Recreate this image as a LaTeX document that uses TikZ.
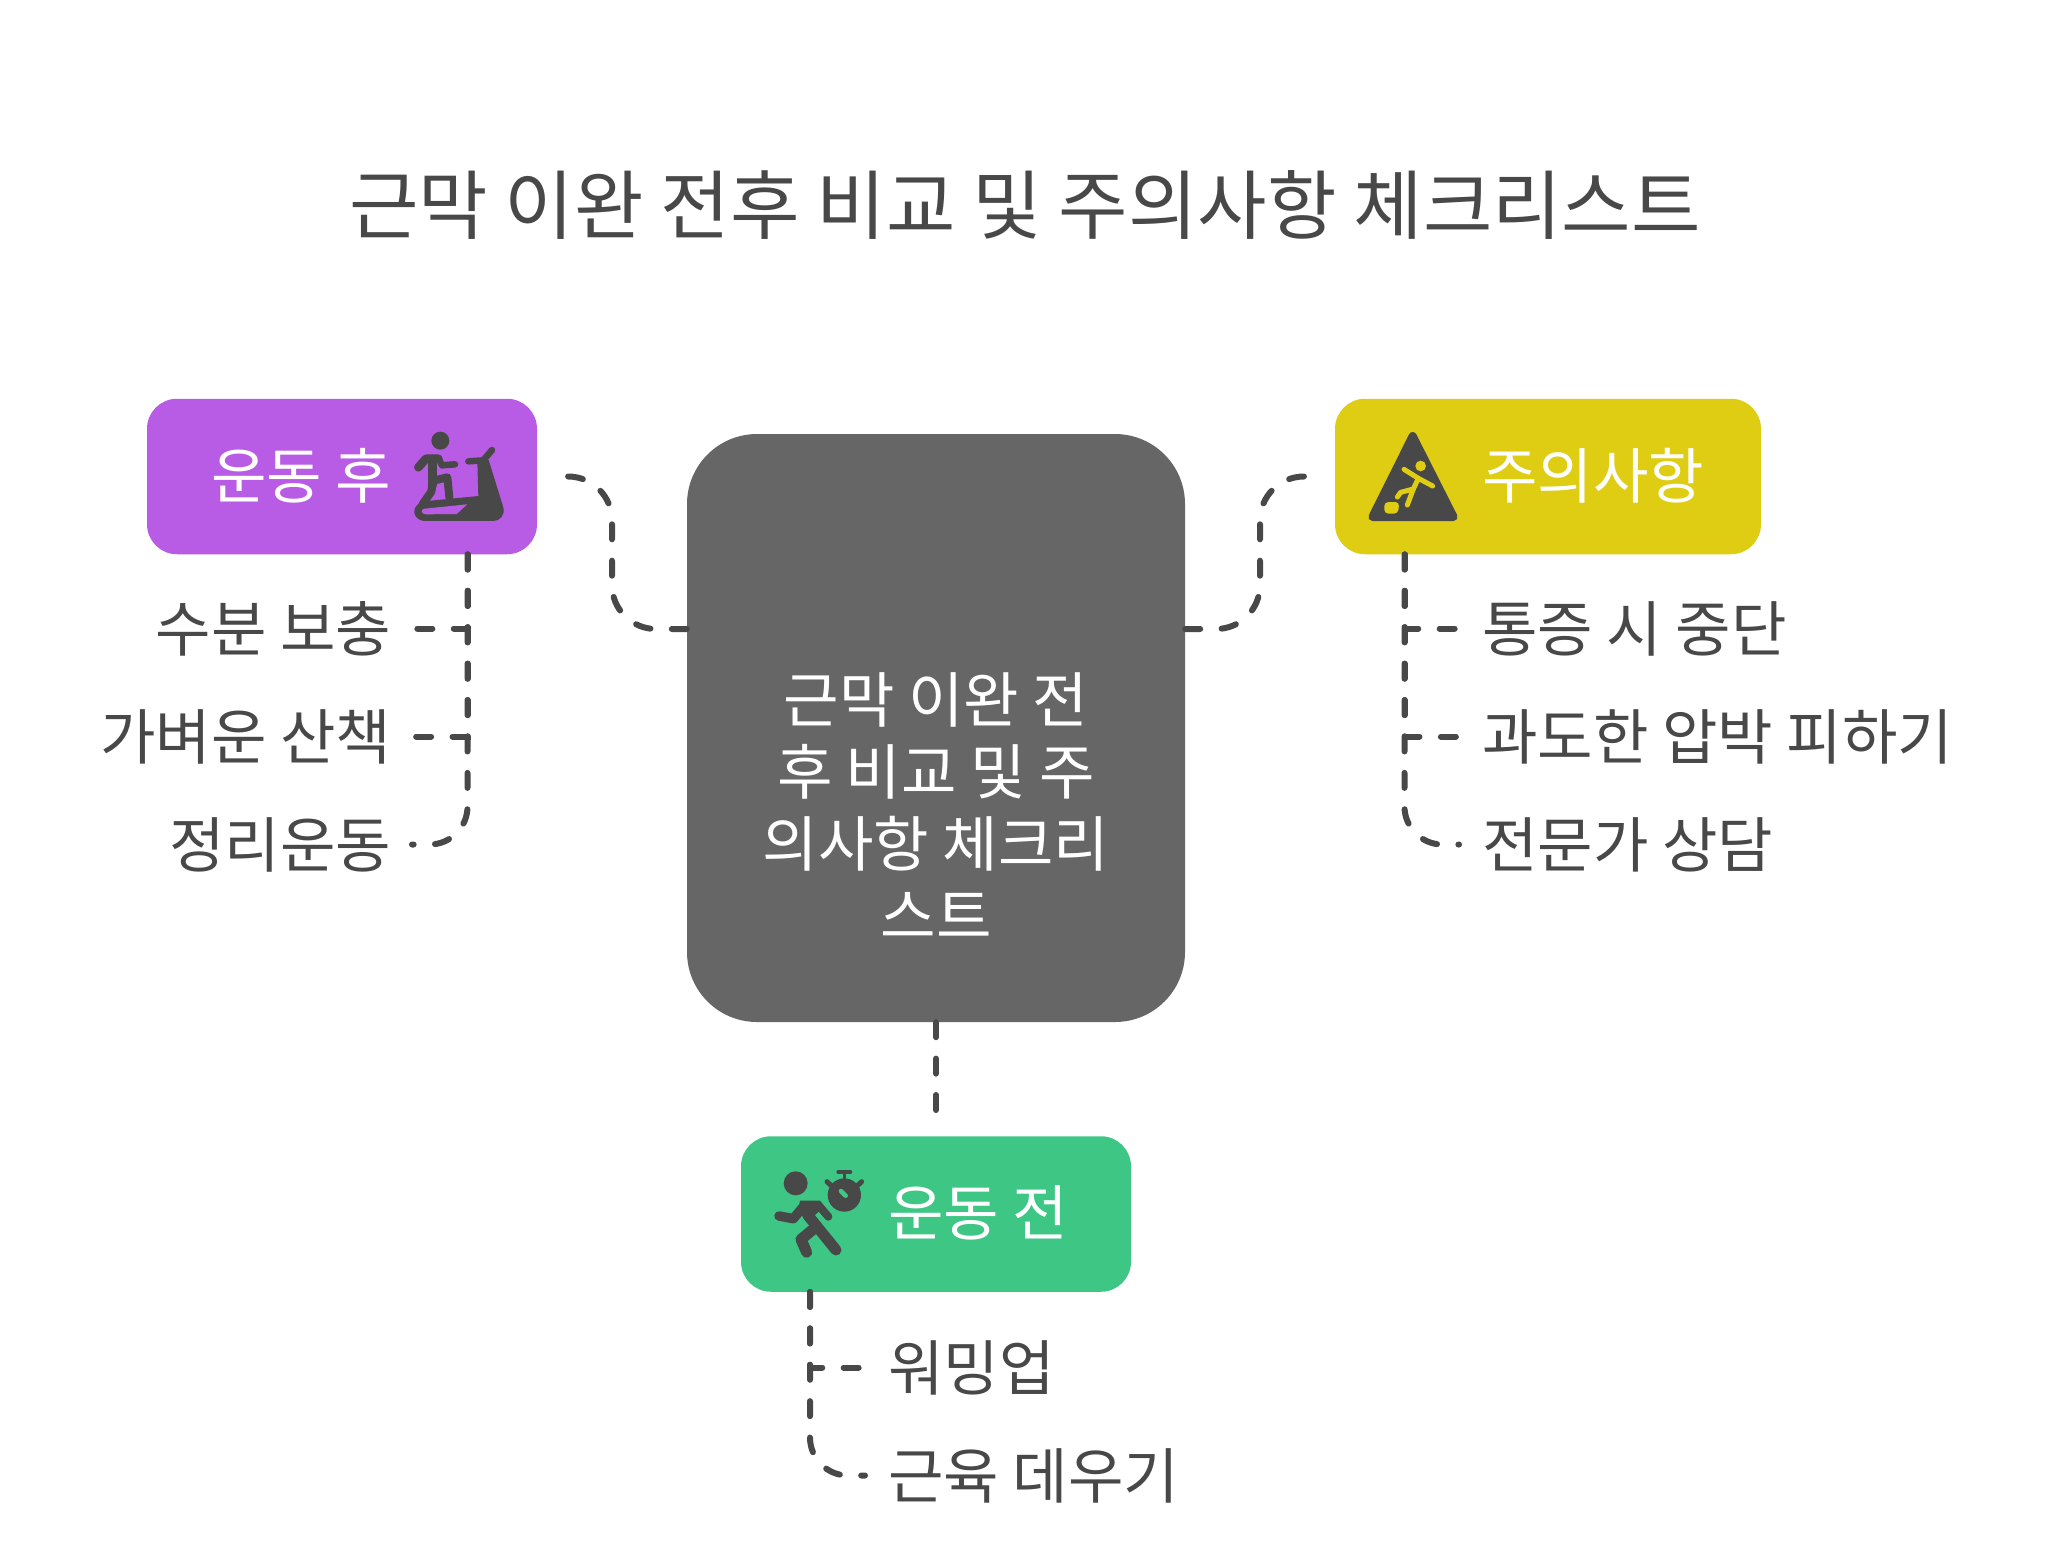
\documentclass[tikz,border=0pt]{standalone}
\usepackage{fontspec}
\setmainfont{Noto Sans CJK KR}
\definecolor{inkc}{HTML}{484848}
\definecolor{purplec}{HTML}{B95CE5}
\definecolor{yellowc}{HTML}{DFCD14}
\definecolor{greenc}{HTML}{3EC685}
\definecolor{darkc}{HTML}{666666}
\tikzset{
  boxnode/.style={inner sep=0pt,rounded corners=30pt,minimum height=155.5pt},
  lab/.style={inner sep=0pt,text=inkc,font=\fontsize{60.3pt}{72pt}\selectfont,text height=50pt,text depth=5pt},
  boxlab/.style={lab,text=white},
  conn/.style={draw=inkc,line width=6pt,line cap=round,dash pattern=on 15pt off 21.4pt},
  ic/.style={fill=inkc},
  icl/.style={draw=inkc,line cap=round,line join=round},
}
\begin{document}
\begin{tikzpicture}[x=1pt,y=-1pt]
\useasboundingbox (0,0) rectangle (2052,1548);
\fill[white] (0,0) rectangle (2052,1548);

\node[lab,text=inkc,font=\fontsize{75.5pt}{86pt}\selectfont] (title) at (1025,210.5) {근막 이완 전후 비교 및 주의사항 체크리스트};

\node[inner sep=0pt,fill=darkc,rounded corners=70pt,minimum width=498pt,minimum height=588pt] (center) at (936,728) {};
\node[inner sep=0pt,text=white,align=center,font=\fontsize{60.3pt}{72pt}\selectfont] (centertext) at (936,806) {근막 이완 전\\후 비교 및 주\\의사항 체크리\\스트};

\node[boxnode,fill=purplec,minimum width=390pt] (after) at (342,476.5) {};
\node[boxnode,fill=yellowc,minimum width=426pt] (caution) at (1548,476.5) {};
\node[boxnode,fill=greenc,minimum width=390pt] (before) at (936,1214) {};

\node[boxlab,anchor=east] (afterlab) at (391.5,475.5) {운동 후};
\node[boxlab,anchor=west] (cautionlab) at (1482,475.5) {주의사항};
\node[boxlab,anchor=west] (beforelab) at (888,1212.5) {운동 전};

\node[lab,anchor=east] (a1) at (391.5,628.5) {수분 보충};
\node[lab,anchor=east] (a2) at (391.5,736.5) {가벼운 산책};
\node[lab,anchor=east] (a3) at (391.5,844.5) {정리운동};
\node[lab,anchor=west] (c1) at (1482,628.5) {통증 시 중단};
\node[lab,anchor=west] (c2) at (1482,736.5) {과도한 압박 피하기};
\node[lab,anchor=west] (c3) at (1482,844.5) {전문가 상담};
\node[lab,anchor=west] (b1) at (888,1367.5) {워밍업};
\node[lab,anchor=west] (b2) at (888,1475.5) {근육 데우기};

\coordinate (midL) at (612,552);
\coordinate (midR) at (1260,552);
\path ([yshift=99pt]center.west) coordinate (centerL);
\path ([yshift=99pt]center.east) coordinate (centerR);

\draw[conn,rounded corners=44pt] (centerL) -- (centerL -| midL) -- (midL |- after.east) -- ([xshift=13pt]after.east);
\draw[conn,rounded corners=44pt] (centerR) -- (centerR -| midR) -- (midR |- caution.west) -- ([xshift=-13pt]caution.west);
\draw[conn] (center.south) -- ([yshift=20pt]before.north);

\draw[conn] ([xshift=125.5pt]after.south) |- ([xshift=20.5pt]a1.east);
\draw[conn] ([xshift=125.5pt]after.south) |- ([xshift=20.5pt]a2.east);
\draw[conn,rounded corners=38pt] ([xshift=125.5pt]after.south) |- ([xshift=20.5pt]a3.east);

\draw[conn] ([xshift=-143.5pt]caution.south) |- ([xshift=-23pt]c1.west);
\draw[conn] ([xshift=-143.5pt]caution.south) |- ([xshift=-23pt]c2.west);
\draw[conn,rounded corners=38pt] ([xshift=-143.5pt]caution.south) |- ([xshift=-23pt]c3.west);

\draw[conn] ([xshift=-126pt]before.south) |- ([xshift=-23pt]b1.west);
\draw[conn,rounded corners=38pt] ([xshift=-126pt]before.south) |- ([xshift=-23pt]b2.west);

% treadmill icon
\begin{scope}[shift={(400,420)},x=0.3333pt,y=-0.3333pt]
  \fill[ic] (121,62) circle (27);
  \draw[icl,line width=8.5pt] (55,142) -- (78,116) -- (115,116);
  \draw[icl,line width=6.5pt] (118,120) -- (126,136) -- (165,133);
  \draw[icl,line width=9.5pt] (97,118) -- (97,195);
  \draw[icl,line width=8pt] (100,182) -- (142,172) -- (148,232);
  \draw[icl,line width=8pt] (97,195) -- (94,215) -- (68,252);
  \draw[icl,line width=6.5pt] (205,124) -- (250,121) -- (276,90);
  \fill[ic] (62,245) -- (235,228) -- (232,124) -- (266,120) -- (310,262)
     .. controls (316,285) and (300,303) .. (280,303) -- (75,303)
     .. controls (48,303) and (33,275) .. (50,257) -- cycle;
  \fill[purplec] (74,266) -- (202,253) -- (170,282) -- (78,283)
     .. controls (64,283) and (60,268) .. (74,266) -- cycle;
\end{scope}

% warning icon
\begin{scope}[shift={(1350,420)},x=0.3333pt,y=-0.3333pt]
  \filldraw[fill=inkc,draw=inkc,line width=8pt,line join=round] (188,48) -- (67,291) -- (311,291) -- cycle;
  \fill[yellowc] (212,138) circle (16);
  \draw[yellowc,line width=5pt,line cap=round,line join=round] (162,148) -- (205,175) -- (248,198);
  \draw[yellowc,line width=5pt,line cap=round,line join=round] (205,175) -- (190,207) -- (152,217) -- (142,231);
  \draw[yellowc,line width=5pt,line cap=round,line join=round] (190,207) -- (172,255);
  \fill[yellowc,rounded corners=4pt] (103,246) -- (148,246) -- (144,281) -- (103,281) -- cycle;
\end{scope}

% runner with stopwatch icon
\begin{scope}[shift={(765,1160)},x=0.3333pt,y=-0.3333pt]
  \fill[ic] (92,70) circle (36);
  \fill[ic] (238,105) circle (50);
  \draw[greenc,line width=4.6pt,line cap=round] (228,93) -- (242,107);
  \draw[icl,line width=3.6pt] (238,38) -- (238,60);
  \draw[icl,line width=4pt] (220,36) -- (256,36);
  \draw[icl,line width=5pt] (186,65) -- (202,80);
  \draw[icl,line width=5pt] (290,65) -- (274,80);
  \draw[icl,line width=9.5pt] (42,168) -- (85,176) -- (115,140);
  \fill[ic] (105,122) -- (165,122) -- (178,140) -- (150,165) -- (120,180) -- (100,150) -- cycle;
  \draw[icl,line width=8pt] (160,135) -- (190,170);
  \draw[icl,line width=11pt] (128,165) -- (213,270);
  \draw[icl,line width=11pt] (142,210) -- (108,238) -- (125,277);
\end{scope}
\end{tikzpicture}
\end{document}
